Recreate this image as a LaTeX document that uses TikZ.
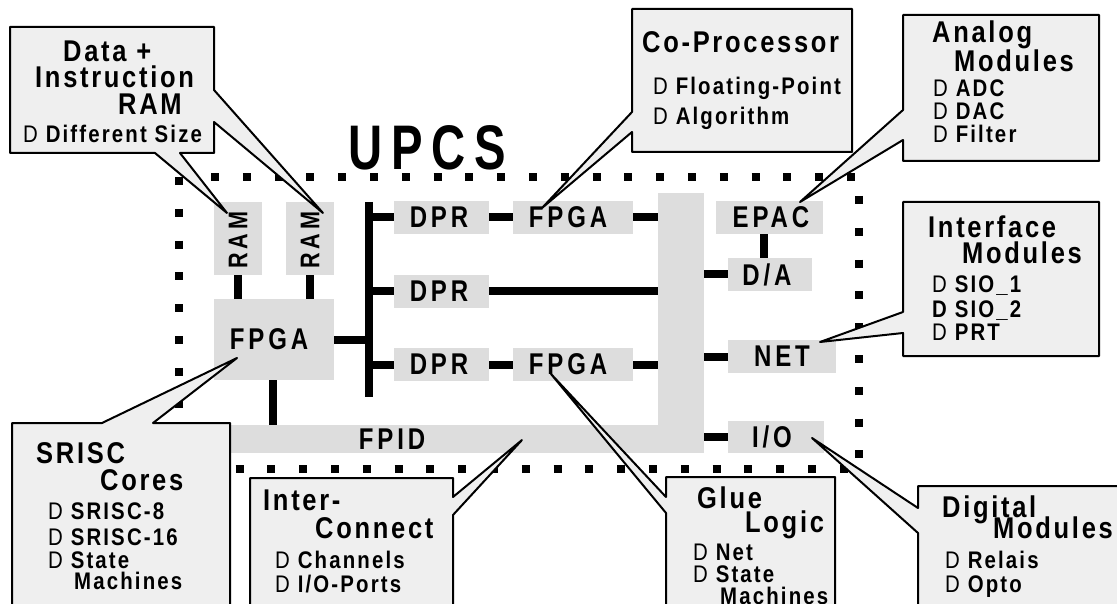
\documentclass[tikz,border=0pt]{standalone}
\usepackage{fontspec}
\setmainfont{Liberation Sans}[FakeStretch=0.85,LetterSpace=9]
\newfontfamily\upcsfont{Liberation Sans}[FakeStretch=0.75,LetterSpace=14]
\newfontfamily\elfont{Liberation Sans}[FakeStretch=0.8,LetterSpace=13]
\newcommand\mytitle{\fontsize{30}{30}\selectfont\bfseries}
\newcommand\myitem{\fontsize{24}{24}\selectfont\bfseries}
\newcommand\mybul{{\mdseries D}\ }
\definecolor{elgray}{HTML}{DDDDDD}
\definecolor{boxgray}{HTML}{EFEFEF}
\tikzset{
  tl/.style={anchor=base west, inner sep=0pt, font=\mytitle},
  it/.style={anchor=base west, inner sep=0pt, font=\myitem},
  el/.style={fill=elgray, inner sep=0pt, font=\elfont\fontsize{30}{30}\selectfont\bfseries},
  lab/.style={inner sep=0pt, font=\elfont\fontsize{30}{30}\selectfont\bfseries},
  wire/.style={line width=8pt},
  callout/.style={draw=black, fill=boxgray, line width=2pt, line join=round},
  dots/.style={line width=8pt, dash pattern=on 8pt off 23.8pt},
}
\begin{document}
\begin{tikzpicture}[x=1pt,y=-1pt]
\useasboundingbox (0,0) rectangle (1117,604);
\clip (0,0) rectangle (1117,604);
% dotted border
\draw[dots] (211,177) -- (863,177);
\draw[dots] (179,177) -- (179,480);
\draw[dots] (859,196) -- (859,473);
\draw[dots] (172,469) -- (863,469);
% title
\node[anchor=base west, inner sep=0pt, font=\upcsfont\fontsize{63}{63}\selectfont\bfseries] (upcs) at (348,170) {UPCS};
% elements
\node[el, minimum width=48pt, minimum height=73pt] (ram1) at (238,238.5) {};
\node[lab, rotate=90, font=\elfont\fontsize{27}{27}\selectfont\bfseries] (ram1t) at (238,240) {RAM};
\node[el, minimum width=48pt, minimum height=73pt] (ram2) at (310,238.5) {};
\node[lab, rotate=90, font=\elfont\fontsize{27}{27}\selectfont\bfseries] (ram2t) at (310,240) {RAM};
\node[el, minimum width=120pt, minimum height=81pt] (fpgaL) at (274,339.5) {};
\node[lab] (fpgaLt) at (269,339.5) {FPGA};
\node[el, minimum width=95pt, minimum height=33pt] (dpr1) at (441.5,217.5) {};
\node[lab] (dpr1t) at (439,217.5) {DPR};
\node[el, minimum width=95pt, minimum height=33pt] (dpr2) at (441.5,291.5) {};
\node[lab] (dpr2t) at (439,291.5) {DPR};
\node[el, minimum width=95pt, minimum height=33pt] (dpr3) at (441.5,364.5) {};
\node[lab] (dpr3t) at (439,364.5) {DPR};
\node[el, minimum width=120pt, minimum height=33pt] (fpgaT) at (573,217.5) {};
\node[lab] (fpgaTt) at (568,217.5) {FPGA};
\node[el, minimum width=120pt, minimum height=33pt] (fpgaB) at (573,364.5) {};
\node[lab] (fpgaBt) at (568,364.5) {FPGA};
\node[el, minimum width=46pt, minimum height=260pt] (bar) at (681,323) {};
\node[el, minimum width=473pt, minimum height=28pt] (fpid) at (467.5,439) {};
\node[lab] (fpidt) at (392,439) {FPID};
\node[el, minimum width=107pt, minimum height=33pt] (epac) at (769.5,217.5) {};
\node[lab] (epact) at (771,217.5) {EPAC};
\node[el, minimum width=84pt, minimum height=33pt] (da) at (770,274.5) {};
\node[lab] (dat) at (767,274.5) {D/A};
\node[el, minimum width=108pt, minimum height=33pt] (net) at (782,356.5) {};
\node[lab] (nett) at (782,356.5) {NET};
\node[el, minimum width=96pt, minimum height=32pt] (io) at (776,437) {};
\node[lab] (iot) at (772,437) {I/O};
% bus
\coordinate (busT) at (369,202);
\coordinate (busB) at (369,397);
% wires
\draw[wire] (ram1.south) -- (ram1.south |- fpgaL.north);
\draw[wire] (ram2.south) -- (ram2.south |- fpgaL.north);
\draw[wire] (busT) -- (busB);
\draw[wire] (fpgaL.east) -- (fpgaL.east -| busT);
\draw[wire] (dpr1.west -| busT) -- (dpr1.west);
\draw[wire] (dpr2.west -| busT) -- (dpr2.west);
\draw[wire] (dpr3.west -| busT) -- (dpr3.west);
\draw[wire] (dpr1.east) -- (fpgaT.west);
\draw[wire] (dpr3.east) -- (fpgaB.west);
\draw[wire] (fpgaT.east) -- (fpgaT.east -| bar.west);
\draw[wire] (fpgaB.east) -- (fpgaB.east -| bar.west);
\draw[wire] (dpr2.east) -- (dpr2.east -| bar.west);
\draw[wire] ([xshift=-5.5pt]epac.south) -- ([xshift=-5.5pt]epac.south |- da.north);
\draw[wire] (bar.east |- da.west) -- (da.west);
\draw[wire] (bar.east |- net.west) -- (net.west);
\draw[wire] (bar.east |- io.west) -- (io.west);
\draw[wire] ([xshift=-1pt]fpgaL.south) -- ([xshift=-1pt]fpgaL.south |- fpid.north);
% callouts
\draw[callout] (10,27) -- (214,27) -- (214,90) -- (323,213) -- (214,122) -- (214,153) -- (180,153) -- (227,213) -- (155,153) -- (10,153) -- cycle;
\draw[callout] (632,9) -- (852,9) -- (852,152) -- (632,152) -- (632,132) -- (542,208) -- (632,112) -- cycle;
\draw[callout] (903,15) -- (1099,15) -- (1099,161) -- (903,161) -- (903,140) -- (800,202) -- (903,110) -- cycle;
\draw[callout] (903,202) -- (1099,202) -- (1099,356) -- (903,356) -- (903,333) -- (820,342) -- (903,312) -- cycle;
\draw[callout] (12,423) -- (102,423) -- (237,358) -- (153,423) -- (230,423) -- (230,615) -- (12,615) -- cycle;
\draw[callout] (250,478) -- (453,478) -- (453,497) -- (522,440) -- (453,515) -- (453,615) -- (250,615) -- cycle;
\draw[callout] (666,477) -- (835,477) -- (835,615) -- (666,615) -- (666,513) -- (551,374) -- (666,497) -- cycle;
\draw[callout] (918,486) -- (1125,486) -- (1125,615) -- (918,615) -- (918,533) -- (812,438) -- (918,508) -- cycle;
% callout texts
\node[tl] (a1) at (63,62) {Data +};
\node[tl] (a2) at (35,88) {Instruction};
\node[tl] (a3) at (118,115) {RAM};
\node[it] (a4) at (23,143) {\mybul Different Size};
\node[tl] (b1) at (642,53) {Co-Processor};
\node[it] (b2) at (653,95) {\mybul Floating-Point};
\node[it] (b3) at (653,125) {\mybul Algorithm};
\node[tl] (c1) at (932,43) {Analog};
\node[tl] (c2) at (954,72) {Modules};
\node[it] (c3) at (933,97) {\mybul ADC};
\node[it] (c4) at (933,120) {\mybul DAC};
\node[it] (c5) at (933,143) {\mybul Filter};
\node[tl] (d1) at (928,238) {Interface};
\node[tl] (d2) at (962,264) {Modules};
\node[it] (d3) at (932,293) {\mybul SIO\_1};
\node[it] (d4) at (932,317) {D SIO\_2};
\node[it] (d5) at (932,340) {\mybul PRT};
\node[tl] (e1) at (36,463) {SRISC};
\node[tl] (e2) at (100,490) {Cores};
\node[it] (e3) at (48,519) {\mybul SRISC-8};
\node[it] (e4) at (48,545) {\mybul SRISC-16};
\node[it] (e5) at (48,568) {\mybul State};
\node[it] (e6) at (74,589) {Machines};
\node[tl] (f1) at (263,510) {Inter-};
\node[tl] (f2) at (315,538) {Connect};
\node[it] (f3) at (275,568) {\mybul Channels};
\node[it] (f4) at (275,592) {\mybul I/O-Ports};
\node[tl] (g1) at (697,508) {Glue};
\node[tl] (g2) at (745,532) {Logic};
\node[it] (g3) at (693,560) {\mybul Net};
\node[it] (g4) at (693,582) {\mybul State};
\node[it] (g5) at (720,604) {Machines};
\node[tl] (h1) at (942,517) {Digital};
\node[tl] (h2) at (993,538) {Modules};
\node[it] (h3) at (945,568) {\mybul Relais};
\node[it] (h4) at (945,592) {\mybul Opto};
\end{tikzpicture}
\end{document}
